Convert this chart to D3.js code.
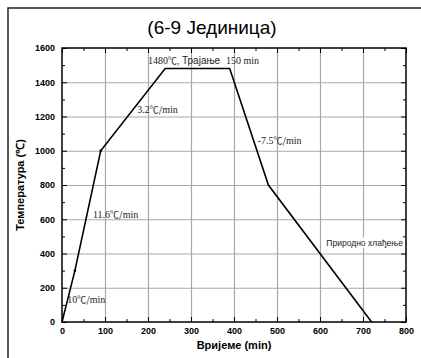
<!DOCTYPE html>
<html>
<head>
<meta charset="utf-8">
<script src="https://cdn.jsdelivr.net/npm/d3@7"></script>
<style>
  body { margin: 0; background: #fff; }
  svg { display: block; }
</style>
</head>
<body>
<script>
// Firing curve: time (min) vs temperature (°C)
const timeMin = [0, 30, 90, 240, 390, 480, 720];
const tempC   = [0, 300, 1000, 1480, 1480, 800, 0];

const xTicks = [0, 100, 200, 300, 400, 500, 600, 700, 800];
const yTicks = [0, 200, 400, 600, 800, 1000, 1200, 1400, 1600];

const notes = [
  { t: 12,  v: 110,  num: "10" },
  { t: 72,  v: 610,  num: "11.6" },
  { t: 175, v: 1220, num: "3.2" },
  { t: 455, v: 1040, num: "-7.5" }
];

const W = 421, H = 358;
const m = { left: 62, right: 15, top: 48, bottom: 36 };
const sans = "Arial, 'Liberation Sans', sans-serif";
const serif = "'Times New Roman', 'Liberation Serif', serif";
const cjk = "'Noto Sans CJK SC', sans-serif";

const svg = d3.select("body").append("svg").attr("width", W).attr("height", H);

// outer frame
svg.append("rect").attr("x", 8).attr("y", 8).attr("width", 420).attr("height", 360)
  .attr("fill", "none").attr("stroke", "#222").attr("stroke-width", 1.5);

const x = d3.scaleLinear().domain([0, 800]).range([m.left, W - m.right]);
const y = d3.scaleLinear().domain([0, 1600]).range([H - m.bottom, m.top]);

// grid, drawn from the major tick positions
const gridColor = "#a8a8a8";
svg.append("g").attr("transform", `translate(0,${y(0)})`)
  .call(d3.axisBottom(x).tickValues(xTicks.slice(1, -1)).tickFormat("")
    .tickSizeInner(-(y(0) - y(1600))).tickSizeOuter(0))
  .call(s => s.select(".domain").remove())
  .call(s => s.selectAll(".tick line").attr("stroke", gridColor).attr("stroke-width", 1.2));
svg.append("g").attr("transform", `translate(${x(0)},0)`)
  .call(d3.axisLeft(y).tickValues(yTicks.slice(1, -1)).tickFormat("")
    .tickSizeInner(-(x(800) - x(0))).tickSizeOuter(0))
  .call(s => s.select(".domain").remove())
  .call(s => s.selectAll(".tick line").attr("stroke", gridColor).attr("stroke-width", 1.2));

// axes with inward ticks
const fmt = d3.format("d");
const tickStyle = sel => {
  sel.select(".domain").remove();
  sel.selectAll(".tick line").attr("stroke", "#000").attr("stroke-width", 1);
  sel.selectAll("text").attr("font-family", sans)
    .attr("font-weight", "bold").attr("font-size", 9).attr("fill", "#000");
};
const minorX = d3.range(50, 800, 100);
const minorY = d3.range(100, 1600, 200);

svg.append("g").attr("transform", `translate(0,${y(0)})`)
  .call(d3.axisBottom(x).tickValues(xTicks).tickFormat(fmt).tickSizeInner(-5).tickPadding(6))
  .call(tickStyle);
svg.append("g").attr("transform", `translate(0,${y(0)})`)
  .call(d3.axisBottom(x).tickValues(minorX).tickFormat("").tickSizeInner(-3)).call(tickStyle);
svg.append("g").attr("transform", `translate(0,${y(1600)})`)
  .call(d3.axisTop(x).tickValues(xTicks).tickFormat("").tickSizeInner(-5)).call(tickStyle);
svg.append("g").attr("transform", `translate(0,${y(1600)})`)
  .call(d3.axisTop(x).tickValues(minorX).tickFormat("").tickSizeInner(-3)).call(tickStyle);

svg.append("g").attr("transform", `translate(${x(0)},0)`)
  .call(d3.axisLeft(y).tickValues(yTicks).tickFormat(fmt).tickSizeInner(-5).tickPadding(7))
  .call(tickStyle);
svg.append("g").attr("transform", `translate(${x(0)},0)`)
  .call(d3.axisLeft(y).tickValues(minorY).tickFormat("").tickSizeInner(-3)).call(tickStyle);
svg.append("g").attr("transform", `translate(${x(800)},0)`)
  .call(d3.axisRight(y).tickValues(yTicks).tickFormat("").tickSizeInner(-5)).call(tickStyle);
svg.append("g").attr("transform", `translate(${x(800)},0)`)
  .call(d3.axisRight(y).tickValues(minorY).tickFormat("").tickSizeInner(-3)).call(tickStyle);

// plot frame
svg.append("rect").attr("x", x(0)).attr("y", y(1600))
  .attr("width", x(800) - x(0)).attr("height", y(0) - y(1600))
  .attr("fill", "none").attr("stroke", "#000").attr("stroke-width", 1.5);

// curve
const pts = timeMin.map((t, i) => [t, tempC[i]]);
svg.append("path").datum(pts)
  .attr("d", d3.line().x(d => x(d[0])).y(d => y(d[1])))
  .attr("fill", "none").attr("stroke", "#000").attr("stroke-width", 1.6);
svg.selectAll("circle.pt").data(pts.slice(1, 3)).join("circle").attr("class", "pt")
  .attr("cx", d => x(d[0])).attr("cy", d => y(d[1])).attr("r", 1.3).attr("fill", "#000");

// rate notes: number in serif, ℃ and slash in wide glyphs
const rate = svg.selectAll("text.note").data(notes).join("text").attr("class", "note")
  .attr("x", d => x(d.t)).attr("y", d => y(d.v))
  .attr("font-size", 10).attr("fill", "#222");
rate.append("tspan").attr("font-family", serif).text(d => d.num);
rate.append("tspan").attr("font-family", cjk).attr("font-size", 9).text("℃/");
rate.append("tspan").attr("font-family", serif).text("min");

// plateau note
const pl = svg.append("text").attr("x", x(200)).attr("y", y(1480) - 5)
  .attr("font-size", 10).attr("fill", "#222");
pl.append("tspan").attr("font-family", serif).text("1480");
pl.append("tspan").attr("font-family", cjk).attr("font-size", 9).text("℃");
pl.append("tspan").attr("font-family", serif).text(", ");
pl.append("tspan").attr("font-family", sans).text("Трајање ");
pl.append("tspan").attr("font-family", serif).attr("dx", 3).text("150 min");

// natural cooling note with white backing
const nc = svg.append("g");
const ncText = nc.append("text").attr("x", x(793)).attr("y", y(445))
  .attr("text-anchor", "end")
  .attr("font-family", sans).attr("font-size", 8.5)
  .attr("fill", "#222").text("Природно хлађење");
const bb = ncText.node().getBBox();
nc.insert("rect", "text").attr("x", bb.x - 1).attr("y", bb.y).attr("width", bb.width + 2)
  .attr("height", bb.height).attr("fill", "#fff");

// title and axis titles
svg.append("text").attr("x", 212).attr("y", 34).attr("text-anchor", "middle")
  .attr("font-family", sans).attr("font-size", 19)
  .text("(6-9 Јединица)");
svg.append("text").attr("x", (x(0) + x(800)) / 2).attr("y", 349).attr("text-anchor", "middle")
  .attr("font-family", sans).attr("font-weight", "bold")
  .attr("font-size", 11).text("Вријеме (min)");
svg.append("text").attr("transform", `translate(24,${(y(0) + y(1600)) / 2}) rotate(-90)`)
  .attr("text-anchor", "middle")
  .attr("font-family", sans).attr("font-weight", "bold")
  .attr("font-size", 11).text("Температура (℃)");
</script>
</body>
</html>
